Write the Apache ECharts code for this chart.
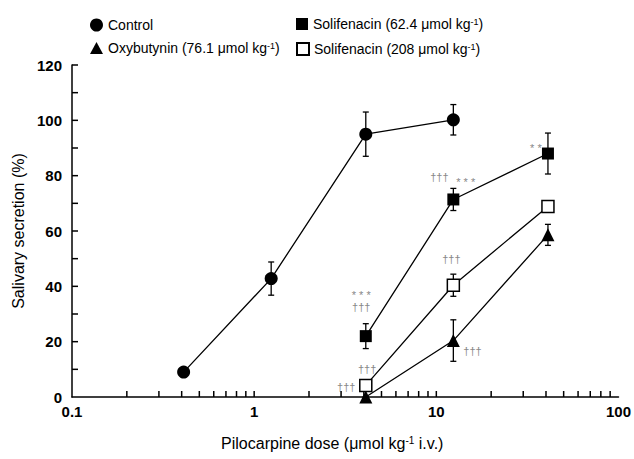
<!DOCTYPE html>
<html><head><meta charset="utf-8">
<script src="https://cdn.jsdelivr.net/npm/echarts@6/dist/echarts.min.js"></script>
<style>html,body{margin:0;padding:0;background:#fff}#c{width:634px;height:459px}</style>
</head><body><div id="c"></div>
<script>
// ---- data ----
const seriesNames = ['Control', 'Oxybutynin (76.1 μmol kg-1)', 'Solifenacin (62.4 μmol kg-1)', 'Solifenacin (208 μmol kg-1)'];
const legendLabels = ['Control', 'Oxybutynin (76.1 μmol kg{sup|-1})', 'Solifenacin (62.4 μmol kg{sup|-1})', 'Solifenacin (208 μmol kg{sup|-1})'];
const controlDoses = [0.41, 1.24, 4.1, 12.4];
const controlY = [9, 42.8, 95, 100.2];
const controlErr = [1, 6, 8, 5.5];
const drugDoses = [4.1, 12.4, 41];
const oxyY = [0, 20.4, 58.6];
const oxyErr = [0, 7.5, 3.8];
const soli62Y = [22, 71.4, 88];
const soli62Err = [4.5, 4, 7.4];
const soli208Y = [4.2, 40.4, 68.9];
const soli208Err = [1, 4, 1.5];
const annotText = ['* * *\n†††', '†††', '†††', '†††', '* * *', '†††', '†††', '* *'];
const annotX = [3.87, 4.17, 3.2, 10.4, 14.5, 12.1, 15.8, 35.2];
const annotY = [34.6, 10.0, 3.6, 79.4, 77.6, 49.8, 16.5, 90.0];
const xTickLabels = ['0.1', '1', '10', '100'];
const xTicks = [0.2,0.3,0.4,0.5,0.6,0.7,0.8,0.9,1,2,3,4,5,6,7,8,9,10,20,30,40,50,60,70,80,90];
const yTicks = [0, 20, 40, 60, 80, 100, 120];
const yAllTicks = [10, 20, 30, 40, 50, 60, 70, 80, 90, 100, 110, 120];

// ---- helpers ----
const FONT = 'Liberation Sans, Arial, Helvetica, sans-serif';
const zip = (xs, ys) => xs.map((x, i) => [x, ys[i]]);
const zip3 = (xs, ys, es) => xs.map((x, i) => [x, ys[i], es[i]]);

function errRender(params, api) {
  const x = api.value(0), y = api.value(1), e = api.value(2);
  const t = api.coord([x, y + e]), b = api.coord([x, y - e]);
  const w = 3;
  const st = {stroke: '#000', lineWidth: 1.3};
  return {type: 'group', children: [
    {type: 'line', shape: {x1: t[0], y1: t[1], x2: b[0], y2: b[1]}, style: st},
    {type: 'line', shape: {x1: t[0] - w, y1: t[1], x2: t[0] + w, y2: t[1]}, style: st},
    {type: 'line', shape: {x1: b[0] - w, y1: b[1], x2: b[0] + w, y2: b[1]}, style: st}
  ]};
}
function errSeries(name, xs, ys, es) {
  return {type: 'custom', name: name, renderItem: errRender, data: zip3(xs, ys, es),
    encode: {x: 0, y: 1}, z: 1, clip: false, silent: true};
}
function lineSeries(name, xs, ys, symbol, size, item) {
  return {type: 'line', name: name, data: zip(xs, ys), symbol: symbol, symbolSize: size,
    showAllSymbol: true, clip: false, z: 3,
    lineStyle: {color: '#000', width: 1.3}, itemStyle: item, emphasis: {disabled: true}};
}
// ticks as small filled rectangles placed through the axis scales
function xTickRender(params, api) {
  const c = api.coord([api.value(0), api.value(1)]);
  return {type: 'rect', shape: {x: c[0] - 0.75, y: c[1] - 6, width: 1.5, height: 6},
    style: {fill: '#000'}};
}
function yTickRender(params, api) {
  const c = api.coord([api.value(0), api.value(1)]);
  return {type: 'rect', shape: {x: c[0], y: c[1] - 0.75, width: 6, height: 1.5},
    style: {fill: '#000'}};
}

const chart = echarts.init(document.getElementById('c'), null, {renderer: 'svg'});
const legendRich = {sup: {fontSize: 9, verticalAlign: 'top', fontFamily: FONT}};
function mkLegend(i, left, top, icon, w, h) {
  return {data: [seriesNames[i]], left: left, top: top, icon: icon, itemWidth: w, itemHeight: h,
    padding: 0, selectedMode: false,
    formatter: () => legendLabels[i],
    textStyle: {fontSize: 14, fontFamily: FONT, color: '#000', rich: legendRich}};
}

chart.setOption({
  animation: false,
  backgroundColor: '#fff',
  textStyle: {fontFamily: FONT},
  legend: [
    mkLegend(0, 90, 18, 'circle', 13, 13),
    mkLegend(1, 90, 41, 'triangle', 13, 12),
    mkLegend(2, 296, 17, 'rect', 12, 12),
    mkLegend(3, 296, 42, 'rect', 12, 12)
  ],
  grid: {left: 72, right: 14, top: 65, bottom: 62},
  xAxis: {
    type: 'log', logBase: 10, min: 0.1, max: 100,
    name: 'Pilocarpine dose (μmol kg{sup|-1} i.v.)', nameLocation: 'middle', nameGap: 38,
    nameTextStyle: {fontSize: 16, color: '#000', fontFamily: FONT, padding: [0, 26, 0, 0],
      rich: {sup: {fontSize: 10, verticalAlign: 'top', fontFamily: FONT}}},
    axisLine: {lineStyle: {color: '#000', width: 1.5}},
    axisTick: {show: false},
    axisLabel: {fontSize: 15, fontWeight: 'bold', color: '#000', margin: 7, fontFamily: FONT,
      showMinLabel: true, showMaxLabel: true, hideOverlap: false,
      formatter: v => { const k = Math.round(Math.log10(v)) + 1; return xTickLabels[k] !== undefined ? xTickLabels[k] : ''; }},
    splitLine: {show: false}
  },
  yAxis: {
    type: 'value', min: 0, max: 120, interval: 20,
    name: 'Salivary secretion (%)', nameLocation: 'middle', nameRotate: 90, nameGap: 46,
    nameTextStyle: {fontSize: 16, color: '#000', fontFamily: FONT},
    axisLine: {show: true, lineStyle: {color: '#000', width: 1.5}},
    axisTick: {show: false},
    minorTick: {show: false},
    axisLabel: {fontSize: 15, fontWeight: 'bold', color: '#000', margin: 10, fontFamily: FONT,
      formatter: v => yTicks.indexOf(v) >= 0 ? String(v) : ''},
    splitLine: {show: false}
  },
  series: [
    errSeries('e0', controlDoses, controlY, controlErr),
    errSeries('e1', drugDoses, oxyY, oxyErr),
    errSeries('e2', drugDoses, soli62Y, soli62Err),
    errSeries('e3', drugDoses, soli208Y, soli208Err),
    {type: 'custom', name: 'xticks', silent: true, z: 5, clip: false,
      data: xTicks.map(v => [v, 0]), encode: {x: 0, y: 1}, renderItem: xTickRender},
    {type: 'custom', name: 'yticks', silent: true, z: 5, clip: false,
      data: yAllTicks.map(v => [0.1, v]), encode: {x: 0, y: 1}, renderItem: yTickRender},
    lineSeries(seriesNames[0], controlDoses, controlY, 'circle', 13, {color: '#000'}),
    lineSeries(seriesNames[1], drugDoses, oxyY, 'triangle', [13, 13], {color: '#000'}),
    lineSeries(seriesNames[2], drugDoses, soli62Y, 'rect', 12, {color: '#000'}),
    lineSeries(seriesNames[3], drugDoses, soli208Y, 'rect', 12, {color: '#fff', borderColor: '#000', borderWidth: 1.5}),
    {type: 'custom', name: 'annotations', silent: true, z: 4, clip: false,
      data: zip(annotX, annotY), encode: {x: 0, y: 1},
      renderItem: (p, api) => { const c = api.coord([api.value(0), api.value(1)]);
        return {type: 'group', children: [{type: 'text', x: c[0], y: c[1], style: {text: annotText[p.dataIndex], fill: '#888888',
          font: '11px ' + FONT, lineHeight: 12, align: 'center', verticalAlign: 'middle'}}]}; }}
  ]
});
</script></body></html>
